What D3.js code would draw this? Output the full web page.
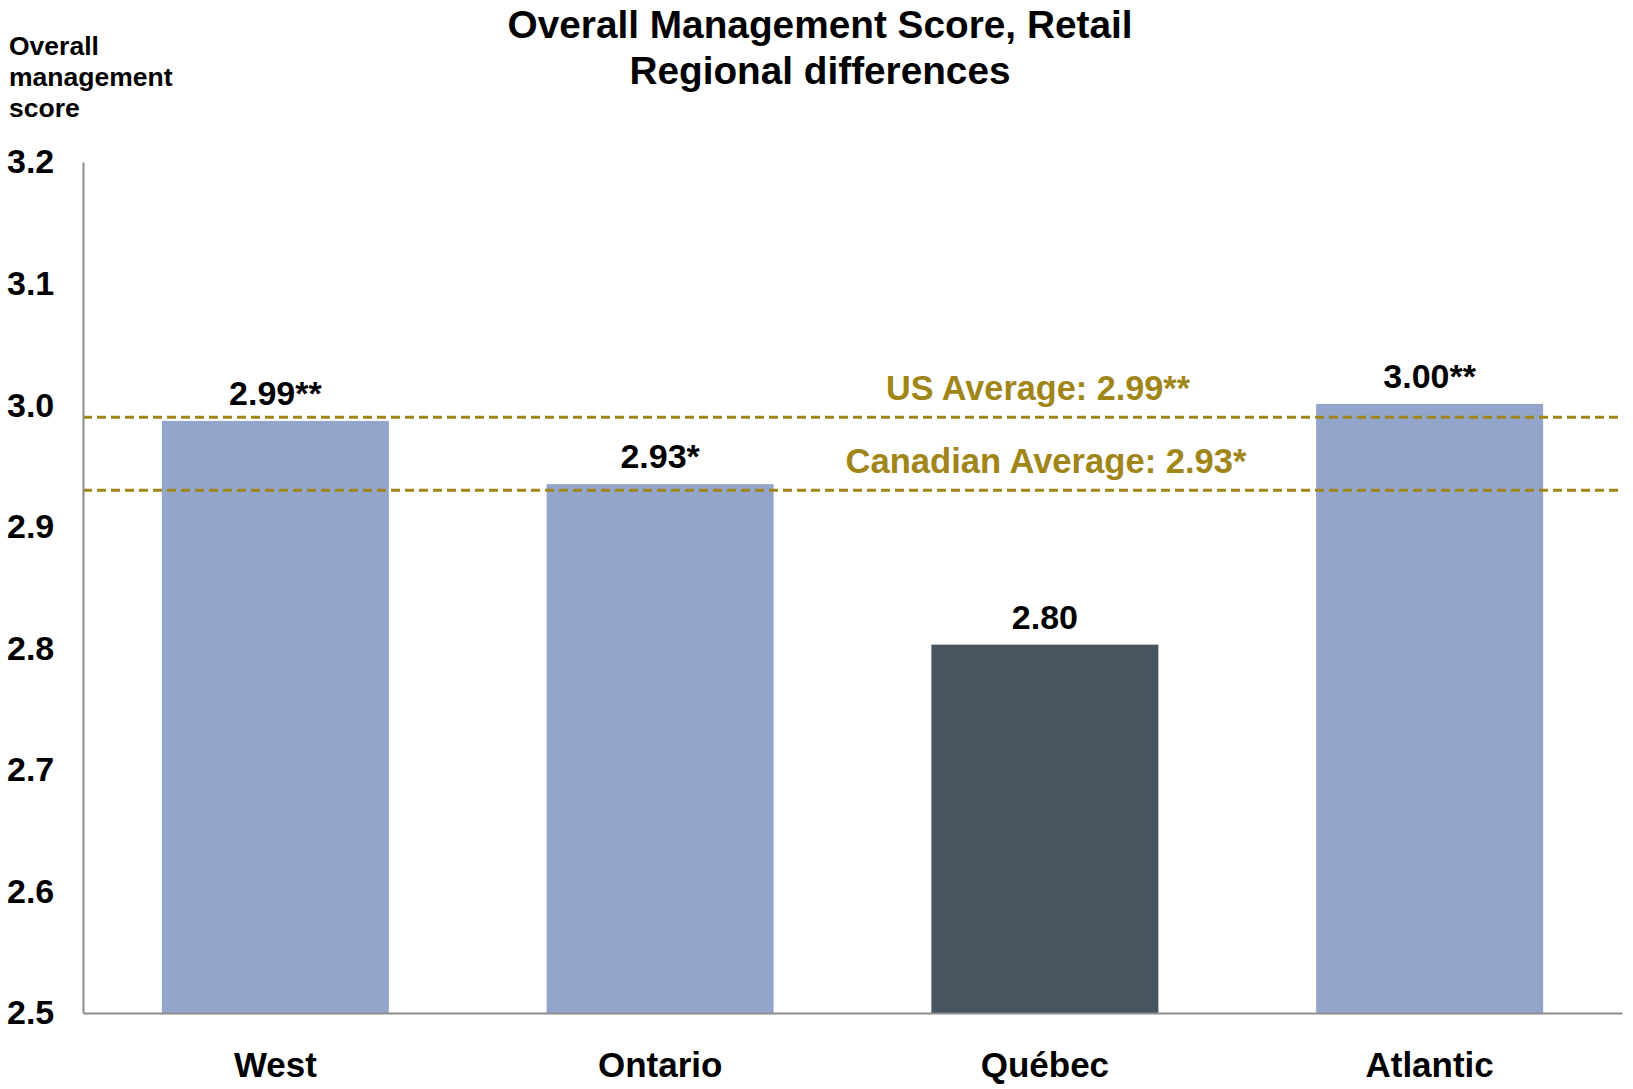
<!DOCTYPE html>
<html>
<head>
<meta charset="utf-8">
<script src="https://cdn.jsdelivr.net/npm/d3@7"></script>
<style>
  body { margin: 0; background: #fff; }
  text { font-family: "Liberation Sans", Arial, sans-serif; font-weight: bold; }
</style>
</head>
<body>
<div id="chart"></div>
<script>
// data
var regions = ["West", "Ontario", "Québec", "Atlantic"];
var scores = [2.987, 2.935, 2.803, 3.001];
var scoreLabels = ["2.99**", "2.93*", "2.80", "3.00**"];
var barColors = ["#94a5cb", "#94a5cb", "#46555f", "#94a5cb"];
var yTicks = [2.5, 2.6, 2.7, 2.8, 2.9, 3.0, 3.1, 3.2];
var averages = [2.99, 2.93];
var averageLabels = ["US Average: 2.99**", "Canadian Average: 2.93*"];
var titleLines = ["Overall Management Score, Retail", "Regional differences"];
var yTitleLines = ["Overall", "management", "score"];

var width = 1633, height = 1089;
var margin = {left: 83, right: 11, top: 162, bottom: 76};

var svg = d3.select("#chart").append("svg")
  .attr("width", width)
  .attr("height", height);

var x = d3.scaleBand()
  .domain(regions)
  .range([margin.left, width - margin.right])
  .paddingInner(0.41)
  .paddingOuter(0.205);

var y = d3.scaleLinear()
  .domain([2.5, 3.2])
  .range([height - margin.bottom, margin.top]);

// title (condensed bold in the original, squeezed to its width)
var titleWidths = [625, 381];
svg.append("g").selectAll("text")
  .data(titleLines)
  .enter().append("text")
  .attr("x", 820)
  .attr("y", function(d, i){ return 38 + i * 46; })
  .attr("text-anchor", "middle")
  .attr("textLength", function(d, i){ return titleWidths[i]; })
  .attr("lengthAdjust", "spacingAndGlyphs")
  .style("font-size", "39px")
  .text(function(d){ return d; });

// y axis title
svg.append("g").selectAll("text")
  .data(yTitleLines)
  .enter().append("text")
  .attr("x", 9)
  .attr("y", function(d, i){ return 55 + i * 31; })
  .style("font-size", "26.5px")
  .text(function(d){ return d; });

// bars
svg.append("g").selectAll("rect")
  .data(scores)
  .enter().append("rect")
  .attr("x", function(d, i){ return x(regions[i]); })
  .attr("width", x.bandwidth())
  .attr("y", function(d){ return y(d); })
  .attr("height", function(d){ return y(2.5) - y(d); })
  .style("fill", function(d, i){ return barColors[i]; });

// value labels
svg.append("g").selectAll("text")
  .data(scores)
  .enter().append("text")
  .attr("x", function(d, i){ return x(regions[i]) + x.bandwidth() / 2; })
  .attr("y", function(d){ return y(d) - 16; })
  .attr("text-anchor", "middle")
  .style("font-size", "34px")
  .text(function(d, i){ return scoreLabels[i]; });

// average lines
svg.append("g").selectAll("line")
  .data(averages)
  .enter().append("line")
  .attr("x1", margin.left)
  .attr("x2", width - margin.right)
  .attr("y1", function(d){ return y(d); })
  .attr("y2", function(d){ return y(d); })
  .style("stroke", "#a08519")
  .style("stroke-width", 3)
  .style("stroke-dasharray", "9,5");

var avgWidths = [304, 401];
svg.append("g").selectAll("text")
  .data(averages)
  .enter().append("text")
  .attr("x", function(d, i){ return i === 0 ? 1038 : 1046; })
  .attr("y", function(d){ return y(d) - 17; })
  .attr("text-anchor", "middle")
  .attr("textLength", function(d, i){ return avgWidths[i]; })
  .attr("lengthAdjust", "spacingAndGlyphs")
  .style("font-size", "35px")
  .style("fill", "#a08519")
  .text(function(d, i){ return averageLabels[i]; });

// y axis
var yAxis = svg.append("g")
  .attr("transform", "translate(" + margin.left + ",0)")
  .call(d3.axisLeft(y).tickValues(yTicks).tickSize(0).tickFormat(d3.format(".1f")));
yAxis.select(".domain").style("stroke", "#8c8c8c").style("stroke-width", 2);
yAxis.selectAll("text")
  .attr("x", -76)
  .attr("text-anchor", "start")
  .style("font-size", "34px")
  .style("font-family", "'Liberation Sans', Arial, sans-serif")
  .style("fill", "#000");

// x axis
var xAxis = svg.append("g")
  .attr("transform", "translate(0," + y(2.5) + ")")
  .call(d3.axisBottom(x).tickSize(0));
xAxis.select(".domain").style("stroke", "#8c8c8c").style("stroke-width", 2);
xAxis.selectAll("text")
  .attr("dy", 0)
  .attr("y", 64)
  .style("font-size", "35px")
  .style("font-family", "'Liberation Sans', Arial, sans-serif")
  .style("fill", "#000");
</script>
</body>
</html>
